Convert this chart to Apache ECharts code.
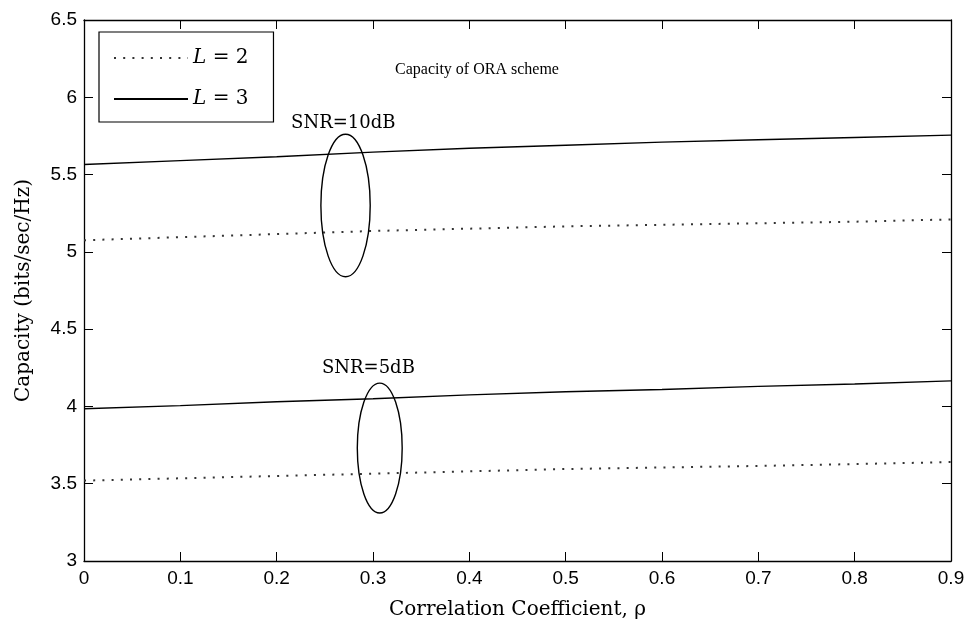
<!DOCTYPE html>
<html>
<head>
<meta charset="utf-8">
<script src="https://cdn.jsdelivr.net/npm/echarts@6/dist/echarts.min.js"></script>
<style>
  html, body { margin: 0; background: #fff; }
  #chart { width: 970px; height: 625px; }
</style>
</head>
<body>
<div id="chart"></div>
<script>
// correlation coefficient (x)
const rho = [0, 0.1, 0.2, 0.3, 0.4, 0.5, 0.6, 0.7, 0.8, 0.9]
// capacity, SNR = 10dB
const snr10L2 = [5.075, 5.095, 5.115, 5.135, 5.15, 5.165, 5.175, 5.185, 5.195, 5.21]
const snr10L3 = [5.565, 5.59, 5.615, 5.645, 5.67, 5.69, 5.71, 5.725, 5.74, 5.755]
// capacity, SNR = 5dB
const snr5L2 = [3.52, 3.535, 3.55, 3.565, 3.58, 3.595, 3.605, 3.615, 3.627, 3.64]
const snr5L3 = [3.985, 4.005, 4.03, 4.05, 4.075, 4.095, 4.11, 4.13, 4.145, 4.165]

// annotations in data units
const noteText = ['SNR=10dB', 'SNR=5dB']
const notePos = [[0.215, 5.83], [0.247, 4.245]]
const ringPos = [[0.2715, 5.30, 0.0256, 0.461], [0.307, 3.731, 0.0233, 0.42]]

const serif = 'DejaVu Serif'
const sans = 'Liberation Sans'

const zip = vals => rho.map((x, i) => [x, vals[i]])

const dotted = { color: '#333', width: 2, type: [2, 7.2] }
const solid = { color: '#000', width: 1.4, type: 'solid' }

function lineSeries(name, vals, style) {
  return {
    name: name,
    type: 'line',
    data: zip(vals),
    symbol: 'none',
    smooth: false,
    silent: true,
    animation: false,
    lineStyle: style,
    itemStyle: { color: style.color }
  }
}

const chart = echarts.init(document.getElementById('chart'))

const option = {
  backgroundColor: '#fff',
  animation: false,
  title: {
    text: 'Capacity of ORA scheme',
    left: 390,
    top: 57,
    textStyle: { fontFamily: 'Liberation Serif', fontSize: 16, fontWeight: 'normal', color: '#000' }
  },
  legend: {
    orient: 'vertical',
    left: 99,
    top: 32,
    padding: [16, 25, 13, 14],
    itemGap: 21,
    itemWidth: 74,
    itemHeight: 14,
    borderColor: '#000',
    borderWidth: 1.2,
    borderRadius: 0,
    backgroundColor: '#fff',
    selectedMode: false,
    itemStyle: { opacity: 0 },
    data: ['L2', 'L3'],
    formatter: name => name === 'L2' ? '{i|L} = 2' : '{i|L} = 3',
    textStyle: {
      fontFamily: serif,
      fontSize: 20,
      color: '#000',
      lineHeight: 20,
      rich: { i: { fontStyle: 'italic', fontFamily: serif, fontSize: 20 } }
    }
  },
  grid: {
    left: 84,
    right: 19,
    top: 20,
    bottom: 64,
    outerBoundsMode: 'none'
  },
  xAxis: [{
    type: 'value',
    min: 0,
    max: 0.9,
    interval: 0.1,
    name: 'Correlation Coefficient, \u03c1',
    nameLocation: 'middle',
    nameGap: 39,
    nameTextStyle: { fontFamily: serif, fontSize: 20, color: '#000' },
    axisLine: { show: true, onZero: false, lineStyle: { color: '#000', width: 1.3 } },
    axisTick: { show: true, inside: true, length: 9, lineStyle: { color: '#000' } },
    axisLabel: {
      margin: 8,
      fontFamily: sans,
      fontSize: 19,
      color: '#000',
      formatter: v => String(Math.round(v * 10) / 10)
    },
    splitLine: { show: false }
  }, {
    type: 'value',
    position: 'top',
    min: 0,
    max: 0.9,
    interval: 0.1,
    axisLine: { show: true, onZero: false, lineStyle: { color: '#000', width: 1.3 } },
    axisTick: { show: true, inside: true, length: 9, lineStyle: { color: '#000' } },
    axisLabel: { show: false },
    splitLine: { show: false }
  }],
  yAxis: [{
    type: 'value',
    min: 3,
    max: 6.5,
    interval: 0.5,
    name: 'Capacity (bits/sec/Hz)',
    nameLocation: 'middle',
    nameGap: 50,
    nameTextStyle: { fontFamily: serif, fontSize: 20, color: '#000' },
    axisLine: { show: true, onZero: false, lineStyle: { color: '#000', width: 1.3 } },
    axisTick: { show: true, inside: true, length: 9, lineStyle: { color: '#000' } },
    axisLabel: { margin: 7, fontFamily: sans, fontSize: 19, color: '#000' },
    splitLine: { show: false }
  }, {
    type: 'value',
    position: 'right',
    min: 3,
    max: 6.5,
    interval: 0.5,
    axisLine: { show: true, onZero: false, lineStyle: { color: '#000', width: 1.3 } },
    axisTick: { show: true, inside: true, length: 9, lineStyle: { color: '#000' } },
    axisLabel: { show: false },
    splitLine: { show: false }
  }],
  series: [
    lineSeries('L2', snr10L2, dotted),
    lineSeries('L3', snr10L3, solid),
    lineSeries('L2', snr5L2, dotted),
    lineSeries('L3', snr5L3, solid)
  ]
}

chart.setOption(option)

// ellipses and SNR labels placed from data coordinates
const toPx = p => chart.convertToPixel({ xAxisIndex: 0, yAxisIndex: 0 }, p)
const graphics = []
ringPos.forEach(r => {
  const c = toPx([r[0], r[1]])
  const ex = toPx([r[0] + r[2], r[1]])
  const ey = toPx([r[0], r[1] + r[3]])
  graphics.push({
    type: 'ellipse',
    silent: true,
    z: 10,
    shape: { cx: c[0], cy: c[1], rx: Math.abs(ex[0] - c[0]), ry: Math.abs(c[1] - ey[1]) },
    style: { fill: 'none', stroke: '#000', lineWidth: 1.4 }
  })
})
noteText.forEach((t, i) => {
  const p = toPx(notePos[i])
  graphics.push({
    type: 'text',
    silent: true,
    z: 10,
    x: p[0],
    y: p[1],
    style: {
      text: t,
      fontFamily: serif,
      fontSize: 18,
      fill: '#000',
      verticalAlign: 'middle',
      align: 'left'
    }
  })
})
chart.setOption({ graphic: graphics })
</script>
</body>
</html>
